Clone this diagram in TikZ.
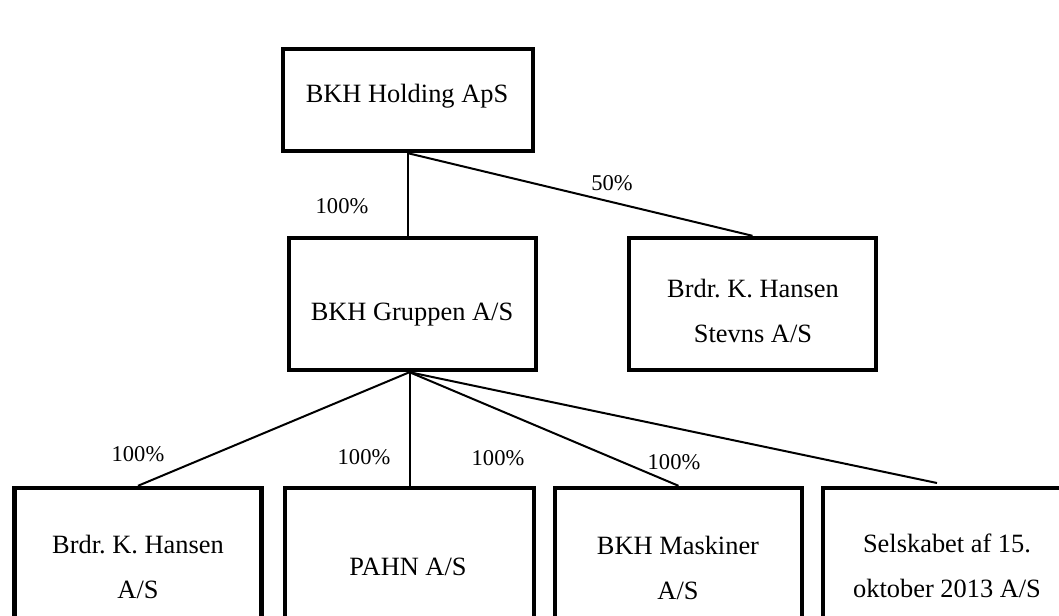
\documentclass[tikz,border=0pt]{standalone}
\usepackage{fontspec}
\setmainfont{Liberation Serif}
\frenchspacing
\begin{document}
\begin{tikzpicture}[x=0.75pt,y=-0.75pt,
  box/.style={draw, line width=3.3pt, inner sep=0pt, minimum width=185.25pt},
  topbox/.style={box, minimum width=187.5pt, minimum height=76.5pt},
  midbox/.style={box, minimum height=99pt},
  lowbox/.style={box, minimum height=114.75pt},
  txt/.style={font=\fontsize{19.8}{33.75}\selectfont, align=center, anchor=base, inner sep=0pt},
  pct/.style={font=\fontsize{16.9}{20}\selectfont, anchor=base, inner sep=0pt},
  link/.style={line width=1.5pt}]
\useasboundingbox (0,0) rectangle (1059,615);
\clip (0,0) rectangle (1059,615);
% boxes
\node[topbox] (hold) at (408,100) {};
\node[midbox] (grp) at (412.5,304) {};
\node[midbox] (stev) at (752.5,304) {};
\node[lowbox] (b1) at (138,564.5) {};
\node[lowbox, minimum width=186.75pt] (pahn) at (409.5,564.5) {};
\node[lowbox] (mask) at (678.5,564.5) {};
\node[lowbox] (sel) at (946.5,564.5) {};
% texts (base anchor = baseline of the last line)
\node[txt] (tHold) at (407,102) {BKH Holding ApS};
\node[txt] (tGrp) at (412,320) {BKH Gruppen A/S};
\node[txt] (tStev) at (753,342) {Brdr. K. Hansen\\Stevns A/S};
\node[txt] (tB1) at (138,598) {Brdr. K. Hansen\\A/S};
\node[txt] (tPahn) at (408,575) {PAHN A/S};
\node[txt] (tMask) at (678,599) {BKH Maskiner\\A/S};
\node[txt] (tSel) at (947,597) {Selskabet af 15.\\oktober 2013 A/S};
% connectors
\coordinate (fan) at (grp.south -| pahn.north);
\coordinate (selend) at (937,483);
\draw[link] (hold.south) -- (hold.south |- grp.north);
\draw[link] (hold.south) -- (stev.north);
\draw[link] (fan) -- (b1.north);
\draw[link] (fan) -- (pahn.north);
\draw[link] (fan) -- (mask.north);
\draw[link] (fan) -- (selend);
% percentages
\node[pct] (p1) at (342,213) {100\%};
\node[pct] (p2) at (612,190) {50\%};
\node[pct] (p3) at (138,461) {100\%};
\node[pct] (p4) at (364,464) {100\%};
\node[pct] (p5) at (498,465) {100\%};
\node[pct] (p6) at (674,469) {100\%};
\end{tikzpicture}
\end{document}
